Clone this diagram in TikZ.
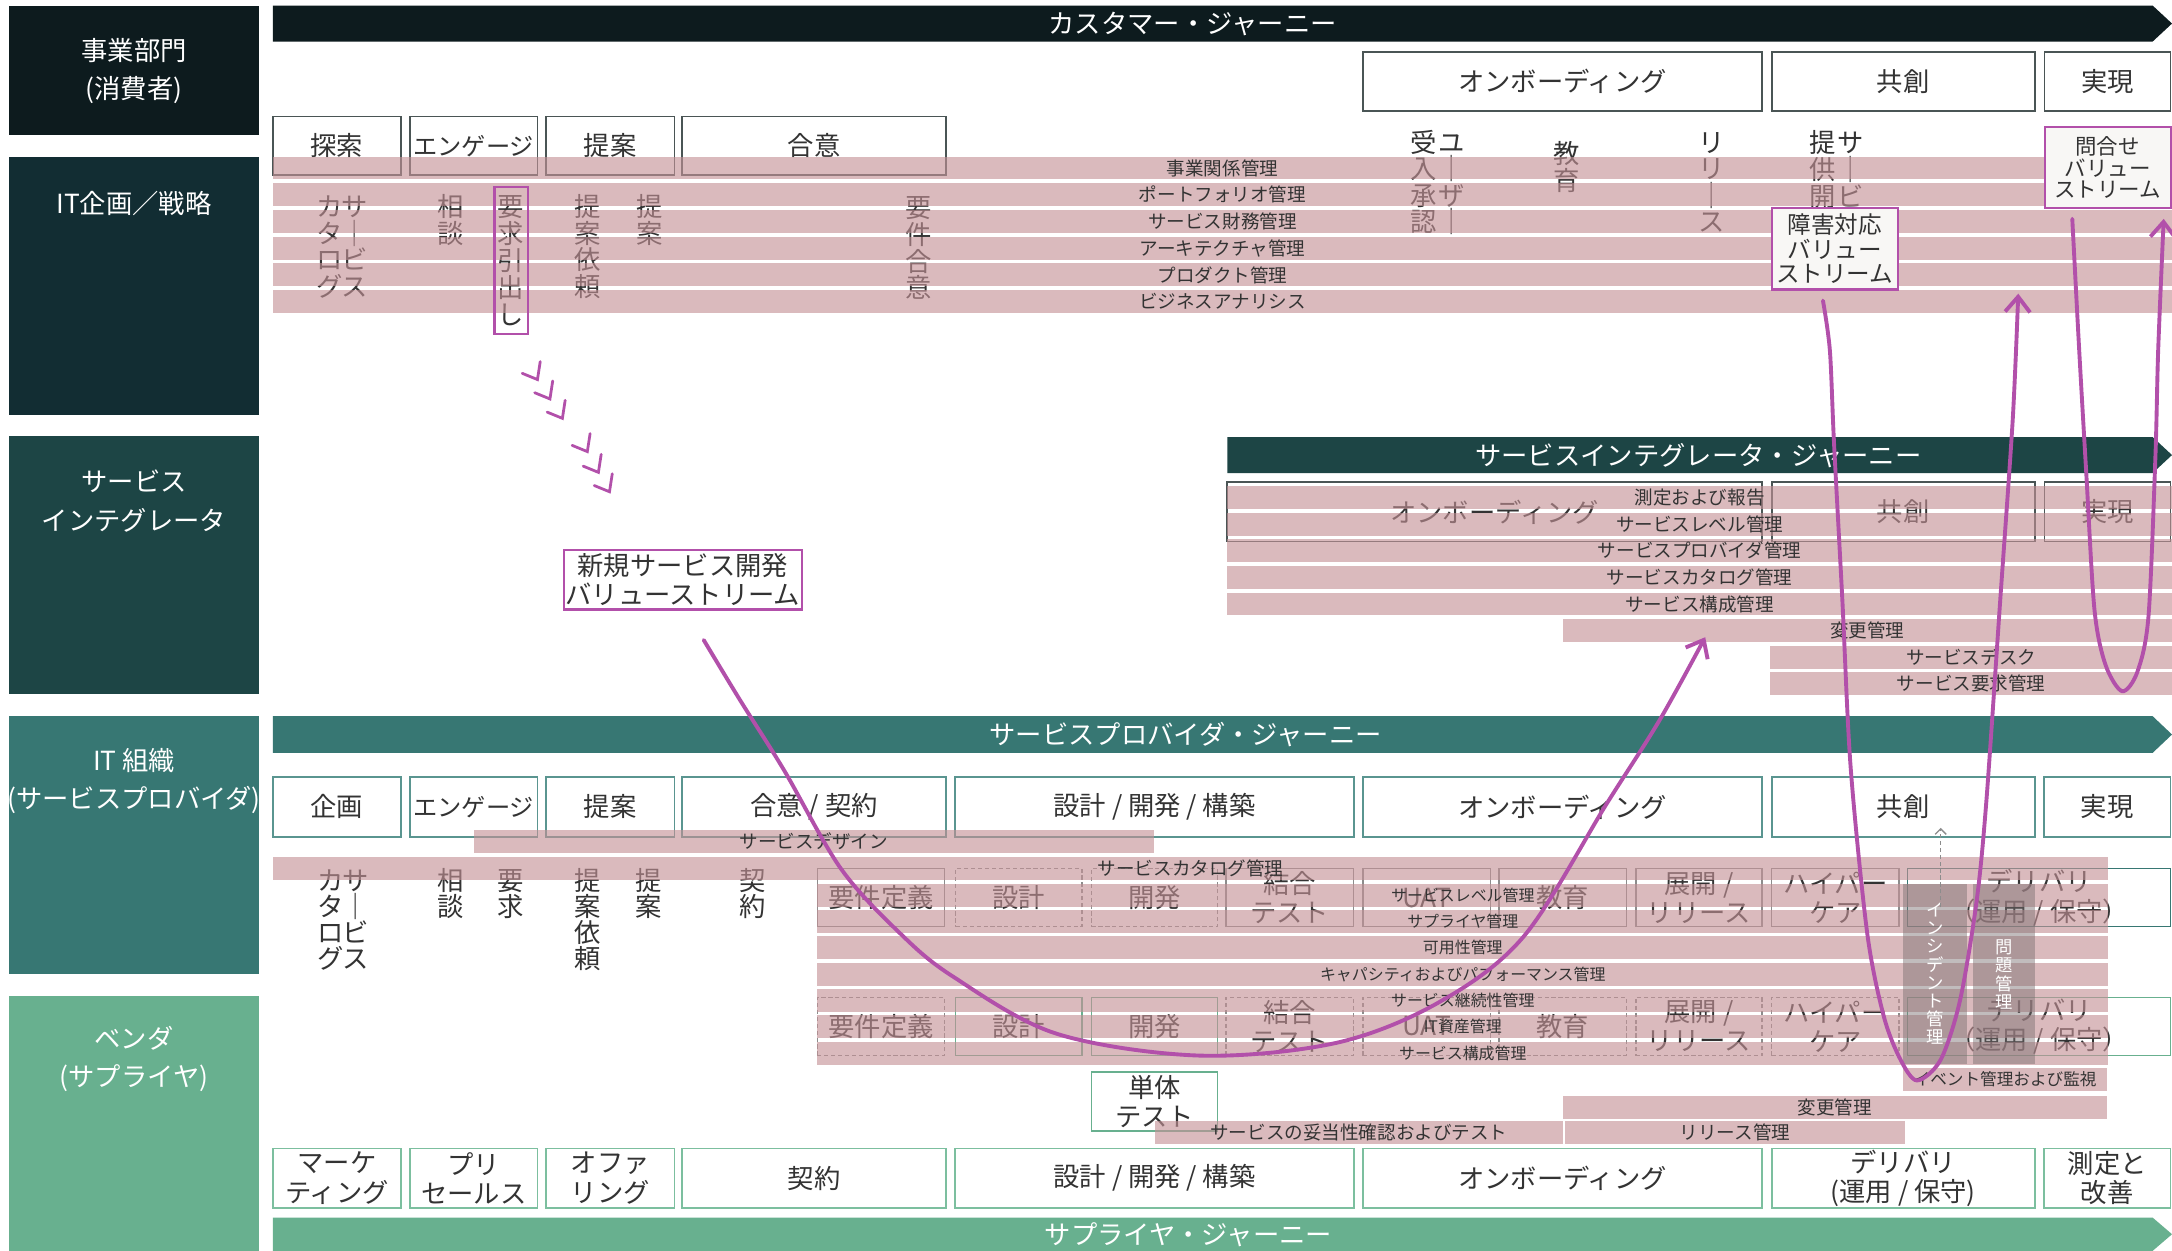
\documentclass[tikz,border=0pt]{standalone}
\usepackage{fontspec}
\setmainfont{Noto Sans CJK JP}
\usetikzlibrary{arrows.meta}
\definecolor{cjdark}{HTML}{0D1B1E}
\definecolor{itplan}{HTML}{122D33}
\definecolor{sicol}{HTML}{1D4545}
\definecolor{spcol}{HTML}{377773}
\definecolor{vdcol}{HTML}{68B08F}
\definecolor{txt}{HTML}{333333}
\definecolor{bandc}{RGB}{196,145,150}
\definecolor{mag}{RGB}{178,80,170}
\definecolor{cjbord}{HTML}{4A5555}
\definecolor{spbord}{HTML}{5A9590}
\definecolor{vdbord}{HTML}{7CBF9F}
\definecolor{darkcol}{RGB}{120,110,112}
\definecolor{vsfill}{HTML}{F8F7F5}
\definecolor{rowgray}{HTML}{8C8C8C}
\tikzset{
  side/.style={inner sep=0pt},
  sidetxt/.style={font=\fontsize{19}{27.6}\selectfont, text=white, align=center, inner sep=0pt},
  bantxt/.style={font=\fontsize{19}{21}\selectfont, text=white, inner sep=0pt, text height=16.7pt, text depth=2.3pt},
  cjbox/.style={draw=cjbord, line width=1.2pt, fill=white, inner sep=0pt, align=center, text=txt, font=\fontsize{19}{21}\selectfont},
  spbox/.style={cjbox, draw=spbord},
  vdbox/.style={cjbox, draw=vdbord},
  rowbox/.style={cjbox, draw=rowgray, line width=1pt},
  rowdash/.style={rowbox, dash pattern=on 3pt off 2pt},
  vch/.style={font=\fontsize{19}{19}\selectfont, text=txt, inner sep=0pt, text height=16.7pt, text depth=2.3pt},
  vchw/.style={font=\fontsize{12.5}{12.5}\selectfont, text=white, inner sep=0pt, text height=11pt, text depth=1.5pt},
  bandst/.style={fill=bandc, fill opacity=0.62, text opacity=1, inner sep=0pt, text=txt, minimum height=16.5pt},
  darkc/.style={fill=darkcol, fill opacity=0.46, inner sep=0pt},
  magbox/.style={draw=mag, line width=1.5pt, inner sep=0pt, align=center, text=txt},
  magc/.style={draw=mag, line width=2.8pt, line cap=round, -{Straight Barb[length=11pt, width=18pt]}},
  chev/.style={draw=mag, line width=2pt, line cap=round}
}
\newcommand\bx[7]{\node[#2, minimum width={#4-#3}, minimum height={#6-#5}] (#1) at ({(#3+#4)/2},{(#5+#6)/2}) {#7};}
\newcommand\band[6]{\node[bandst, minimum width={#3-#2}, font=\fontsize{#5}{#5}\selectfont] (#1) at ({(#2+#3)/2},{#4+8.25}) {#6};}
\newcommand\vtext[6]{\foreach \c [count=\i] in {#5} {\node[#6] (#1-\i) at (#2,{#3+(\i-1)*#4}) {\c};}}
\newcommand\bnr[8]{\fill[#6] (#2,#4) -- ({#3-14},#4) -- (#3,{(#4+#5)/2}) -- ({#3-14},#5) -- (#2,#5) -- cycle;
  \node[bantxt] (#1) at (#7,{(#4+#5)/2}) {#8};}
\begin{document}
\begin{tikzpicture}[x=1pt,y=-1pt]
\useasboundingbox (0,0) rectangle (1568,903);
\fill[white] (0,0) rectangle (1568,903);
% ---------- left column ----------
\bx{s1}{side, fill=cjdark}{6.5}{187}{4.5}{97.5}{}
\bx{s2}{side, fill=itplan}{6.5}{187}{113}{299.6}{}
\bx{s3}{side, fill=sicol}{6.5}{187}{315}{501}{}
\bx{s4}{side, fill=spcol}{6.5}{187}{517}{703}{}
\bx{s5}{side, fill=vdcol}{6.5}{187}{719}{903}{}
\node[sidetxt] (s1t) at (96.75,51.2) {事業部門\\(消費者)};
\node[sidetxt] (s2t) at (96.75,147) {IT企画／戦略};
\node[sidetxt] (s3t) at (96.75,361.8) {サービス\\インテグレータ};
\node[sidetxt] (s4t) at (96.75,563.8) {IT 組織\\(サービスプロバイダ)};
\node[sidetxt] (s5t) at (96.75,764.5) {ベンダ\\(サプライヤ)};
% ---------- banners ----------
\bnr{cj}{197}{1568}{4}{30}{cjdark}{861}{カスタマー・ジャーニー}
\bnr{si}{886}{1568}{315.5}{341.5}{sicol}{1226}{サービスインテグレータ・ジャーニー}
\bnr{sp}{197}{1568}{517}{543.5}{spcol}{856}{サービスプロバイダ・ジャーニー}
\bnr{vd}{197}{1568}{879}{903}{vdcol}{858}{サプライヤ・ジャーニー}
% ---------- customer journey boxes ----------
\bx{c1}{cjbox}{984}{1272}{37.5}{80}{オンボーディング}
\bx{c2}{cjbox}{1279}{1469}{37.5}{80}{共創}
\bx{c3}{cjbox}{1476}{1567}{37.5}{80}{実現}
\bx{c4}{cjbox}{197}{289.5}{84}{126.5}{探索}
\bx{c5}{cjbox}{296}{388}{84}{126.5}{\fontsize{17.5}{21}\selectfont エンゲージ}
\bx{c6}{cjbox}{394}{487}{84}{126.5}{提案}
\bx{c7}{cjbox}{492.5}{683}{84}{126.5}{合意}
% ---------- SI boxes ----------
\bx{i1}{cjbox}{886}{1272}{348}{391}{オンボーディング}
\bx{i2}{cjbox}{1279}{1469}{348}{391}{共創}
\bx{i3}{cjbox}{1476}{1567}{348}{391}{実現}
% ---------- SP boxes ----------
\bx{p1}{spbox}{197}{289.5}{561}{604}{企画}
\bx{p2}{spbox}{296}{388}{561}{604}{\fontsize{17.5}{21}\selectfont エンゲージ}
\bx{p3}{spbox}{394}{487}{561}{604}{提案}
\bx{p4}{spbox}{492.5}{683}{561}{604}{合意 / 契約}
\bx{p5}{spbox}{689.5}{977.5}{561}{604}{設計 / 開発 / 構築}
\bx{p6}{spbox}{984}{1272}{561}{604}{オンボーディング}
\bx{p7}{spbox}{1279}{1469}{561}{604}{共創}
\bx{p8}{spbox}{1475.5}{1567}{561}{604}{実現}
% row A
\bx{a1}{rowbox}{590}{682}{627}{669}{要件定義}
\bx{a2}{rowdash}{690}{781}{627}{669}{設計}
\bx{a3}{rowdash}{788}{879}{627}{669}{開発}
\bx{a4}{rowbox}{885}{977}{627}{669}{結合\\テスト}
\bx{a5}{rowbox}{984}{1076}{627}{669}{UAT}
\bx{a6}{rowbox}{1082}{1174}{627}{669}{教育}
\bx{a7}{rowbox}{1181}{1272}{627}{669}{展開 /\\リリース}
\bx{a8}{rowbox}{1279}{1371}{627}{669}{ハイパー\\ケア}
\bx{a9}{rowbox, draw=spcol}{1377}{1567}{627}{669}{デリバリ\\（運用 / 保守）}
% row B
\bx{r1}{rowdash}{590}{682}{720}{762}{要件定義}
\bx{r2}{rowbox, draw=vdcol}{690}{781}{720}{762}{設計}
\bx{r3}{rowbox, draw=vdcol}{788}{879}{720}{762}{開発}
\bx{r4}{rowdash}{885}{977}{720}{762}{結合\\テスト}
\bx{r5}{rowdash}{984}{1076}{720}{762}{UAT}
\bx{r6}{rowdash}{1082}{1174}{720}{762}{教育}
\bx{r7}{rowdash}{1181}{1272}{720}{762}{展開 /\\リリース}
\bx{r8}{rowdash}{1279}{1371}{720}{762}{ハイパー\\ケア}
\bx{r9}{rowbox, draw=vdcol}{1377}{1567}{720}{762}{デリバリ\\（運用 / 保守）}
\bx{u1}{rowbox, draw=vdcol}{788}{879}{774}{816.5}{単体\\テスト}
% ---------- supplier boxes ----------
\bx{q1}{vdbox}{197}{289.5}{829}{872}{マーケ\\ティング}
\bx{q2}{vdbox}{296}{388}{829}{872}{プリ\\セールス}
\bx{q3}{vdbox}{394}{487}{829}{872}{オファ\\リング}
\bx{q4}{vdbox}{492.5}{683}{829}{872}{契約}
\bx{q5}{vdbox}{689.5}{977.5}{829}{872}{設計 / 開発 / 構築}
\bx{q6}{vdbox}{984}{1272}{829}{872}{オンボーディング}
\bx{q7}{vdbox}{1279}{1469}{829}{872}{デリバリ\\(運用 / 保守)}
\bx{q8}{vdbox}{1475.5}{1567}{829}{872}{測定と\\改善}
% ---------- vertical texts ----------
\vtext{v1}{238}{149}{19.3}{カ,タ,ロ,グ}{vch}
\vtext{v2}{256}{149}{19.3}{サ,｜,ビ,ス}{vch}
\vtext{v3}{325}{149}{19.3}{相,談}{vch}
\vtext{v4}{369}{149}{19.5}{要,求,引,出,し}{vch}
\vtext{v5}{424}{149}{19.3}{提,案,依,頼}{vch}
\vtext{v6}{469}{149}{19.3}{提,案}{vch}
\vtext{v7}{663}{150}{19.3}{要,件,合,意}{vch}
\vtext{v8}{1028}{103}{19}{受,入,承,認}{vch}
\vtext{v9}{1048}{103}{19}{ユ,｜,ザ,｜}{vch}
\vtext{v10}{1131}{111}{19.5}{教,育}{vch}
\vtext{v11}{1236}{103}{19}{リ,リ,｜,ス}{vch}
\vtext{v12}{1316}{103}{19.5}{提,供,開}{vch}
\vtext{v13}{1336}{103}{19.5}{サ,｜,ビ}{vch}
\vtext{w1}{239}{636}{18.6}{カ,タ,ロ,グ}{vch}
\vtext{w2}{257}{636}{18.6}{サ,｜,ビ,ス}{vch}
\vtext{w3}{325}{636}{18.6}{相,談}{vch}
\vtext{w4}{369}{636}{18.6}{要,求}{vch}
\vtext{w5}{424}{636}{18.6}{提,案,依,頼}{vch}
\vtext{w6}{468}{636}{18.6}{提,案}{vch}
\vtext{w7}{543}{636}{18.6}{契,約}{vch}
% ---------- bands: IT plan ----------
\band{b1}{197}{1568}{113}{13.4}{事業関係管理}
\band{b2}{197}{1568}{132.3}{13.4}{ポートフォリオ管理}
\band{b3}{197}{1568}{151.6}{13.4}{サービス財務管理}
\band{b4}{197}{1568}{170.9}{13.4}{アーキテクチャ管理}
\band{b5}{197}{1568}{190.2}{13.4}{プロダクト管理}
\band{b6}{197}{1568}{209.5}{13.4}{ビジネスアナリシス}
% SI bands
\band{g1}{886}{1568}{351}{13.4}{測定および報告}
\band{g2}{886}{1568}{370.2}{13.4}{サービスレベル管理}
\band{g3}{886}{1568}{389.4}{13.4}{サービスプロバイダ管理}
\band{g4}{886}{1568}{408.6}{13.4}{サービスカタログ管理}
\band{g5}{886}{1568}{427.8}{13.4}{サービス構成管理}
\band{g6}{1128}{1568}{447}{13.4}{変更管理}
\band{g7}{1278}{1568}{466.2}{13.4}{サービスデスク}
\band{g8}{1278}{1568}{485.4}{13.4}{サービス要求管理}
% SP bands
\band{h1}{342}{833}{599}{13.4}{サービスデザイン}
\band{h2}{197}{1522}{619}{13.4}{サービスカタログ管理}
\band{h3}{590}{1522}{638}{11.5}{サービスレベル管理}
\band{h4}{590}{1522}{657}{11.5}{サプライヤ管理}
\band{h5}{590}{1522}{676}{11.5}{可用性管理}
\band{h6}{590}{1522}{695}{11.5}{キャパシティおよびパフォーマンス管理}
\band{h7}{590}{1522}{714}{11.5}{サービス継続性管理}
\band{h8}{590}{1522}{733}{11.5}{IT資産管理}
\band{h9}{590}{1522}{752}{11.5}{サービス構成管理}
\band{h10}{1374}{1521}{771}{12}{イベント管理および監視}
\band{h11}{1128}{1521}{791}{13.4}{変更管理}
\band{h12}{1130}{1375}{809}{13.4}{リリース管理}
\band{h13}{834}{1128}{809}{13.4}{サービスの妥当性確認およびテスト}
% ---------- incident / problem columns ----------
\bx{inc}{darkc}{1374}{1420}{638}{768}{}
\bx{prb}{darkc}{1424}{1469}{638}{768}{}
\vtext{x1}{1397}{657}{13.1}{イ,ン,シ,デ,ン,ト,管,理}{vchw}
\vtext{x2}{1446.5}{683.5}{13.3}{問,題,管,理}{vchw}
\coordinate (incup) at (1401,655);
\draw[rowgray, line width=1pt, dash pattern=on 3pt off 2pt, -{Straight Barb[length=4pt,width=8pt]}] (incup) -- ([yshift=7pt]p7.south -| incup);
% ---------- magenta boxes ----------
\node[magbox, minimum width=24pt, minimum height=106pt] (yk) at (369,188) {};
\node[magbox, fill=white, minimum width=172pt, minimum height=43pt, font=\fontsize{19}{21}\selectfont] (shinki) at (493,418.5) {新規サービス開発\\バリューストリーム};
\node[magbox, fill=vsfill, minimum width=91pt, minimum height=59pt, font=\fontsize{17}{17.5}\selectfont] (shogai) at (1324.5,179.5) {障害対応\\バリュー\\ストリーム};
\node[magbox, fill=vsfill, minimum width=91pt, minimum height=58pt, font=\fontsize{15.5}{15.6}\selectfont] (toi) at (1521.5,121) {問合せ\\バリュー\\ストリーム};
% ---------- chevrons ----------
\foreach \tx/\ty in {388/274, 397/288, 406/302, 424/326, 432/341, 440/355}
  \draw[chev] (\tx+2,\ty-13) -- (\tx,\ty) -- (\tx-11,\ty-4.5);
% ---------- curves ----------
\coordinate (k1s) at (508,462);
\coordinate (k1e) at (1231,460);
\draw[magc] plot[smooth, tension=0.55] coordinates {(k1s) (534,505) (566,556) (607,627) (650,674) (688,705) (762,746) (865,762) (964,753) (1038,724) (1100,676) (1160,580) (1198,520) (k1e)};
\coordinate (k2s) at (1316,217);
\coordinate (k2e) at (1457,212);
\draw[magc] plot[smooth, tension=0.5] coordinates {(k2s) (1321,253) (1324,320) (1330,433) (1336,554) (1348,674) (1360,734) (1372,765) (1384,780) (1401,765) (1415,722) (1427,650) (1434,578) (1444,433) (1453,303) (k2e)};
\coordinate (k3s) at (1496,158);
\coordinate (k3e) at (1562,158);
\draw[magc] plot[smooth, tension=0.5] coordinates {(k3s) (1501,253) (1506,340) (1512,440) (1520,480) (1532,499) (1543,485) (1551,445) (1556,330) (1558,253) (k3e)};
\end{tikzpicture}
\end{document}
